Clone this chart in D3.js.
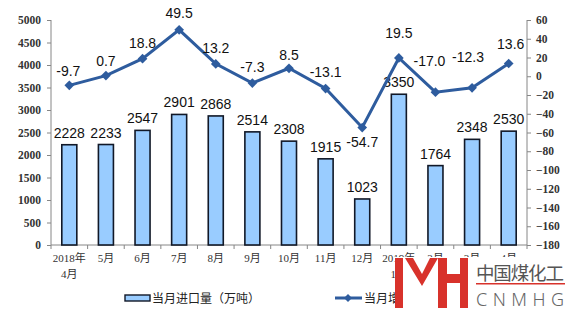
<!DOCTYPE html>
<html>
<head>
<meta charset="utf-8">
<script src="https://cdn.jsdelivr.net/npm/d3@7"></script>
<style>
  body { margin: 0; background: #fff; }
  svg { display: block; }
</style>
</head>
<body>
<div id="chart"></div>
<script>
// months shown on the x axis (two-line labels split by \n)
const months = ['2018年\n4月', '5月', '6月', '7月', '8月', '9月', '10月', '11月', '12月',
  '2019年\n1月', '2月', '3月', '4月'];
// monthly import volume (万吨)
const imports = [2228, 2233, 2547, 2901, 2868, 2514, 2308, 1915, 1023, 3350, 1764, 2348, 2530];
// year-on-year growth (%)
const growth = [-9.7, 0.7, 18.8, 49.5, 13.2, -7.3, 8.5, -13.1, -54.7, 19.5, -17.0, -12.3, 13.6];
const leftTicks = d3.range(0, 5001, 500);
const rightTicks = d3.range(-180, 61, 20);
const legendNames = ['当月进口量（万吨）', '当月增速（%）'];

const width = 569, height = 313;
const svg = d3.select('#chart').append('svg')
  .attr('width', width)
  .attr('height', height);

const x = d3.scaleBand().domain(months).range([51, 527])
  .paddingInner(0.59).paddingOuter(0.295);
const yL = d3.scaleLinear().domain([0, 5000]).range([245, 20]);
const yR = d3.scaleLinear().domain([-180, 60]).range([245, 20]);
const cx = d => x(d) + x.bandwidth() / 2;

const axisColor = '#868686';
const tickFont = '"Liberation Serif", "Times New Roman", serif';

// left axis
const gL = svg.append('g').attr('transform', 'translate(51,0)')
  .call(d3.axisLeft(yL).tickValues(leftTicks).tickSize(4).tickPadding(6).tickFormat(d3.format('d')));
// right axis
const gR = svg.append('g').attr('transform', 'translate(527,0)')
  .call(d3.axisRight(yR).tickValues(rightTicks).tickSize(4).tickPadding(5).tickFormat(d3.format('d')));
[gL, gR].forEach(g => {
  g.selectAll('path, line').attr('stroke', axisColor);
  g.select('.domain').attr('d', 'M0,20V245');
  g.selectAll('text').attr('font-family', tickFont).attr('font-size', 11.5)
    .attr('font-weight', 'bold').attr('fill', '#333');
});

// x axis line and category ticks
const gX = svg.append('g');
gX.append('line').attr('x1', 51).attr('x2', 527).attr('y1', 245).attr('y2', 245)
  .attr('stroke', axisColor);
gX.selectAll('.xt').data(d3.range(months.length + 1)).join('line')
  .attr('x1', i => 51 + i * x.step()).attr('x2', i => 51 + i * x.step())
  .attr('y1', 245).attr('y2', 249).attr('stroke', axisColor);
gX.selectAll('.xl').data(months).join('text')
  .attr('x', d => cx(d))
  .attr('text-anchor', 'middle')
  .attr('font-family', tickFont + ', "Noto Sans CJK SC"')
  .attr('font-size', 11)
  .attr('fill', '#333')
  .each(function (d) {
    d.split('\n').forEach((t, i) => {
      d3.select(this).append('tspan').attr('x', cx(d)).attr('y', 262 + i * 16).text(t);
    });
  });

// bars
svg.append('g').selectAll('rect').data(imports).join('rect')
  .attr('x', (d, i) => x(months[i]))
  .attr('y', d => yL(d))
  .attr('width', x.bandwidth())
  .attr('height', d => yL(0) - yL(d))
  .attr('fill', '#99ccff')
  .attr('stroke', '#111827')
  .attr('stroke-width', 1.6);

const labelFont = '"Liberation Sans", Arial, sans-serif';
svg.append('g').selectAll('text').data(imports).join('text')
  .attr('x', (d, i) => cx(months[i]))
  .attr('y', d => yL(d) - 7)
  .attr('text-anchor', 'middle')
  .attr('font-family', labelFont)
  .attr('font-size', 14)
  .attr('fill', '#111')
  .text(d => d);

// growth line
const lineColor = '#2e5c9e';
const line = d3.line().x((d, i) => cx(months[i])).y(d => yR(d));
svg.append('path').datum(growth)
  .attr('d', line)
  .attr('fill', 'none')
  .attr('stroke', lineColor)
  .attr('stroke-width', 3);
svg.append('g').selectAll('path').data(growth).join('path')
  .attr('d', d3.symbol(d3.symbolDiamond2, 60))
  .attr('transform', (d, i) => `translate(${cx(months[i])},${yR(d)})`)
  .attr('fill', lineColor);

// hand-placed label nudges (dx, dy of text centre from point)
const nudge = [[-1, -14], [0, -15], [0, -16], [0, -17], [0, -16], [0, -16], [0, -13],
  [0, -17], [0, 14], [0, -25], [-6, -31], [-4, -31], [2, -20]];
svg.append('g').selectAll('text').data(growth).join('text')
  .attr('x', (d, i) => cx(months[i]) + nudge[i][0])
  .attr('y', (d, i) => yR(d) + nudge[i][1] + 5)
  .attr('text-anchor', 'middle')
  .attr('font-family', labelFont)
  .attr('font-size', 14)
  .attr('fill', '#111')
  .text(d => d.toFixed(1));

// legend
const lg = svg.append('g').attr('font-family', '"Noto Sans CJK SC", sans-serif')
  .attr('font-size', 12).attr('fill', '#222');
lg.append('rect').attr('x', 125).attr('y', 295).attr('width', 25).attr('height', 6)
  .attr('fill', '#99ccff').attr('stroke', '#111827').attr('stroke-width', 1.4);
lg.append('text').attr('x', 152).attr('y', 303).text(legendNames[0]);
lg.append('line').attr('x1', 335).attr('x2', 362).attr('y1', 298).attr('y2', 298)
  .attr('stroke', lineColor).attr('stroke-width', 3);
lg.append('path').attr('d', d3.symbol(d3.symbolDiamond2, 40))
  .attr('transform', 'translate(348,298)').attr('fill', lineColor);
lg.append('text').attr('x', 364).attr('y', 303).text(legendNames[1]);

// watermark
const wm = svg.append('g');
wm.append('rect').attr('x', 395).attr('y', 257).attr('width', 174).attr('height', 56).attr('fill', '#fff');
const red = '#d8322b';
wm.append('path').attr('fill', red).attr('d',
  'M395,258H403V308H395Z' +
  'M405,258L413,258L422,274L422,286Z' +
  'M438,258L430,258L422,274L422,286Z' +
  'M438,258H447V308H438Z' +
  'M460,258H468V308H460Z' +
  'M447,274H460V283H447Z');
wm.append('text').attr('x', 476).attr('y', 280)
  .attr('font-family', '"Noto Sans CJK SC", sans-serif').attr('font-size', 18.5)
  .attr('fill', '#555').attr('textLength', 88).text('中国煤化工');
wm.append('rect').attr('x', 476).attr('y', 283).attr('width', 89).attr('height', 1.5).attr('fill', red);
wm.append('text').attr('x', 476).attr('y', 306)
  .attr('font-family', '"Noto Sans", sans-serif').attr('font-size', 18).attr('font-weight', 300)
  .attr('fill', '#666').attr('textLength', 88).attr('lengthAdjust', 'spacing').text('CNMHG');
</script>
</body>
</html>
